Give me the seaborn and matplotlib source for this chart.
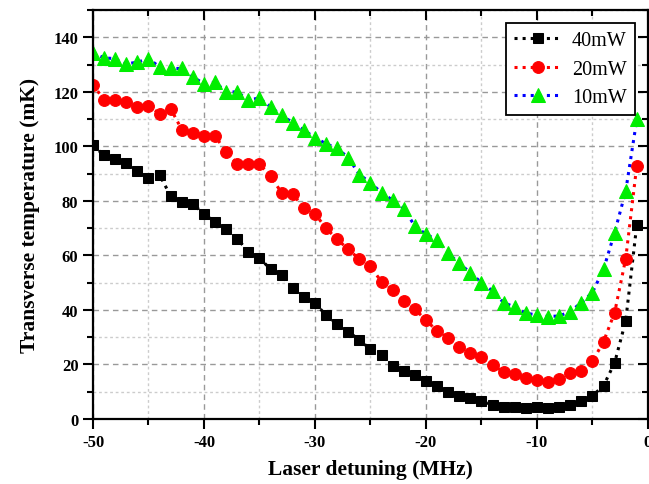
import numpy as np
import pandas as pd
import matplotlib
matplotlib.use("Agg")
import matplotlib.pyplot as plt
import seaborn as sns
from matplotlib.ticker import MultipleLocator

detuning = list(range(-50, 0))

p40 = [100.4, 96.7, 95.5, 93.8, 91.0, 88.3, 89.5, 81.8, 79.6, 79.0,
       75.1, 72.4, 69.6, 66.2, 61.3, 59.0, 55.0, 52.7, 48.0, 44.9,
       42.5, 38.1, 34.8, 32.1, 29.0, 25.6, 23.6, 19.3, 17.7, 16.1,
       13.8, 12.0, 10.0, 8.3, 7.6, 6.7, 5.1, 4.5, 4.3, 3.9,
       4.3, 3.9, 4.3, 5.2, 6.5, 8.5, 12.2, 20.6, 36.0, 71.3]

p20 = [122.7, 117.0, 117.0, 116.4, 114.5, 115.0, 112.0, 113.8, 106.2, 104.8,
       103.8, 103.8, 98.0, 93.7, 93.7, 93.6, 89.0, 83.0, 82.6, 77.3,
       75.3, 70.0, 65.9, 62.3, 58.6, 56.0, 50.3, 47.4, 43.3, 40.3,
       36.3, 32.3, 29.9, 26.3, 24.4, 22.6, 19.8, 17.3, 16.5, 15.0,
       14.2, 13.7, 14.5, 16.7, 17.7, 21.1, 28.4, 39.0, 58.8, 93.0]

p10 = [134.3, 132.5, 132.2, 130.3, 130.9, 132.2, 129.2, 128.6, 128.6, 125.5,
       123.0, 123.6, 120.0, 120.0, 117.0, 117.8, 114.5, 111.4, 108.7, 106.0,
       103.2, 101.0, 99.3, 95.9, 89.7, 86.7, 83.0, 80.3, 77.2, 70.8,
       67.8, 65.7, 60.8, 57.1, 53.7, 50.0, 47.0, 42.7, 41.1, 38.8,
       38.2, 37.6, 37.8, 39.4, 42.7, 46.4, 54.9, 68.4, 83.6, 109.9]

labels = ["40mW", "20mW", "10mW"]

sns.set_style("ticks")
plt.rcParams['font.family'] = ['Liberation Serif', 'DejaVu Serif']
plt.rcParams['axes.unicode_minus'] = False
plt.rcParams['text.color'] = 'black'
plt.rcParams['axes.labelcolor'] = 'black'

fig = plt.figure(figsize=(6.49, 4.85), dpi=100)
ax = fig.add_axes([0.1433, 0.134, 0.855, 0.843])

series = [
    (p40, labels[0], "black", "s", "black", 7.5),
    (p20, labels[1], "red", "o", "red", 8.5),
    (p10, labels[2], "blue", "^", "#00ee00", 9.5),
]
for vals, lab, lc, mk, mc, ms in series:
    sns.lineplot(x=detuning, y=vals, ax=ax, color=lc, linestyle=":", lw=2.2,
                 marker=mk, markersize=ms, markerfacecolor=mc,
                 markeredgecolor=mc, label=lab)

ax.set_xlim(-50, 0)
ax.set_ylim(0, 150)
ax.xaxis.set_major_locator(MultipleLocator(10))
ax.xaxis.set_minor_locator(MultipleLocator(5))
ax.yaxis.set_major_locator(MultipleLocator(20))
ax.yaxis.set_minor_locator(MultipleLocator(10))

ax.grid(which="major", linestyle=(0, (4, 3)), color="#999999", lw=1.0)
ax.grid(which="minor", linestyle=(0, (2, 2)), color="#cccccc", lw=1.0)
ax.set_axisbelow(True)

for s in ax.spines.values():
    s.set_linewidth(1.6)
    s.set_color("black")

ax.tick_params(axis="both", which="both", width=1.5, colors="black")
ax.tick_params(axis="both", which="major", length=7)
ax.tick_params(axis="both", which="minor", length=4.5)
ax.tick_params(left=True, bottom=True, right=True, top=True, direction="out")
ax.tick_params(which="minor", left=True, bottom=True, right=True, top=True)
for t in ax.yaxis.get_major_ticks() + ax.yaxis.get_minor_ticks():
    t.tick2line.set_marker(matplotlib.lines.TICKLEFT)
for t in ax.xaxis.get_major_ticks() + ax.xaxis.get_minor_ticks():
    t.tick2line.set_marker(matplotlib.lines.TICKDOWN)

for lab in ax.get_xticklabels() + ax.get_yticklabels():
    lab.set_fontweight("bold")
    lab.set_fontsize(12)

ax.set_xlabel("Laser detuning (MHz)", fontsize=15.5, fontweight="bold",
              labelpad=7, color="black")
ax.set_ylabel("Transverse temperature (mK)", fontsize=15.5, fontweight="bold",
              labelpad=10, color="black")

leg = ax.legend(loc="upper right", fontsize=14.5, frameon=True, fancybox=False,
                edgecolor="black", framealpha=1, borderpad=0.4, labelspacing=0.45,
                handlelength=2.4, handletextpad=0.5, borderaxespad=0.65)
leg.get_frame().set_linewidth(1.3)
for txt in leg.get_texts():
    txt.set_color("black")

fig.savefig("out.png", dpi=100)
